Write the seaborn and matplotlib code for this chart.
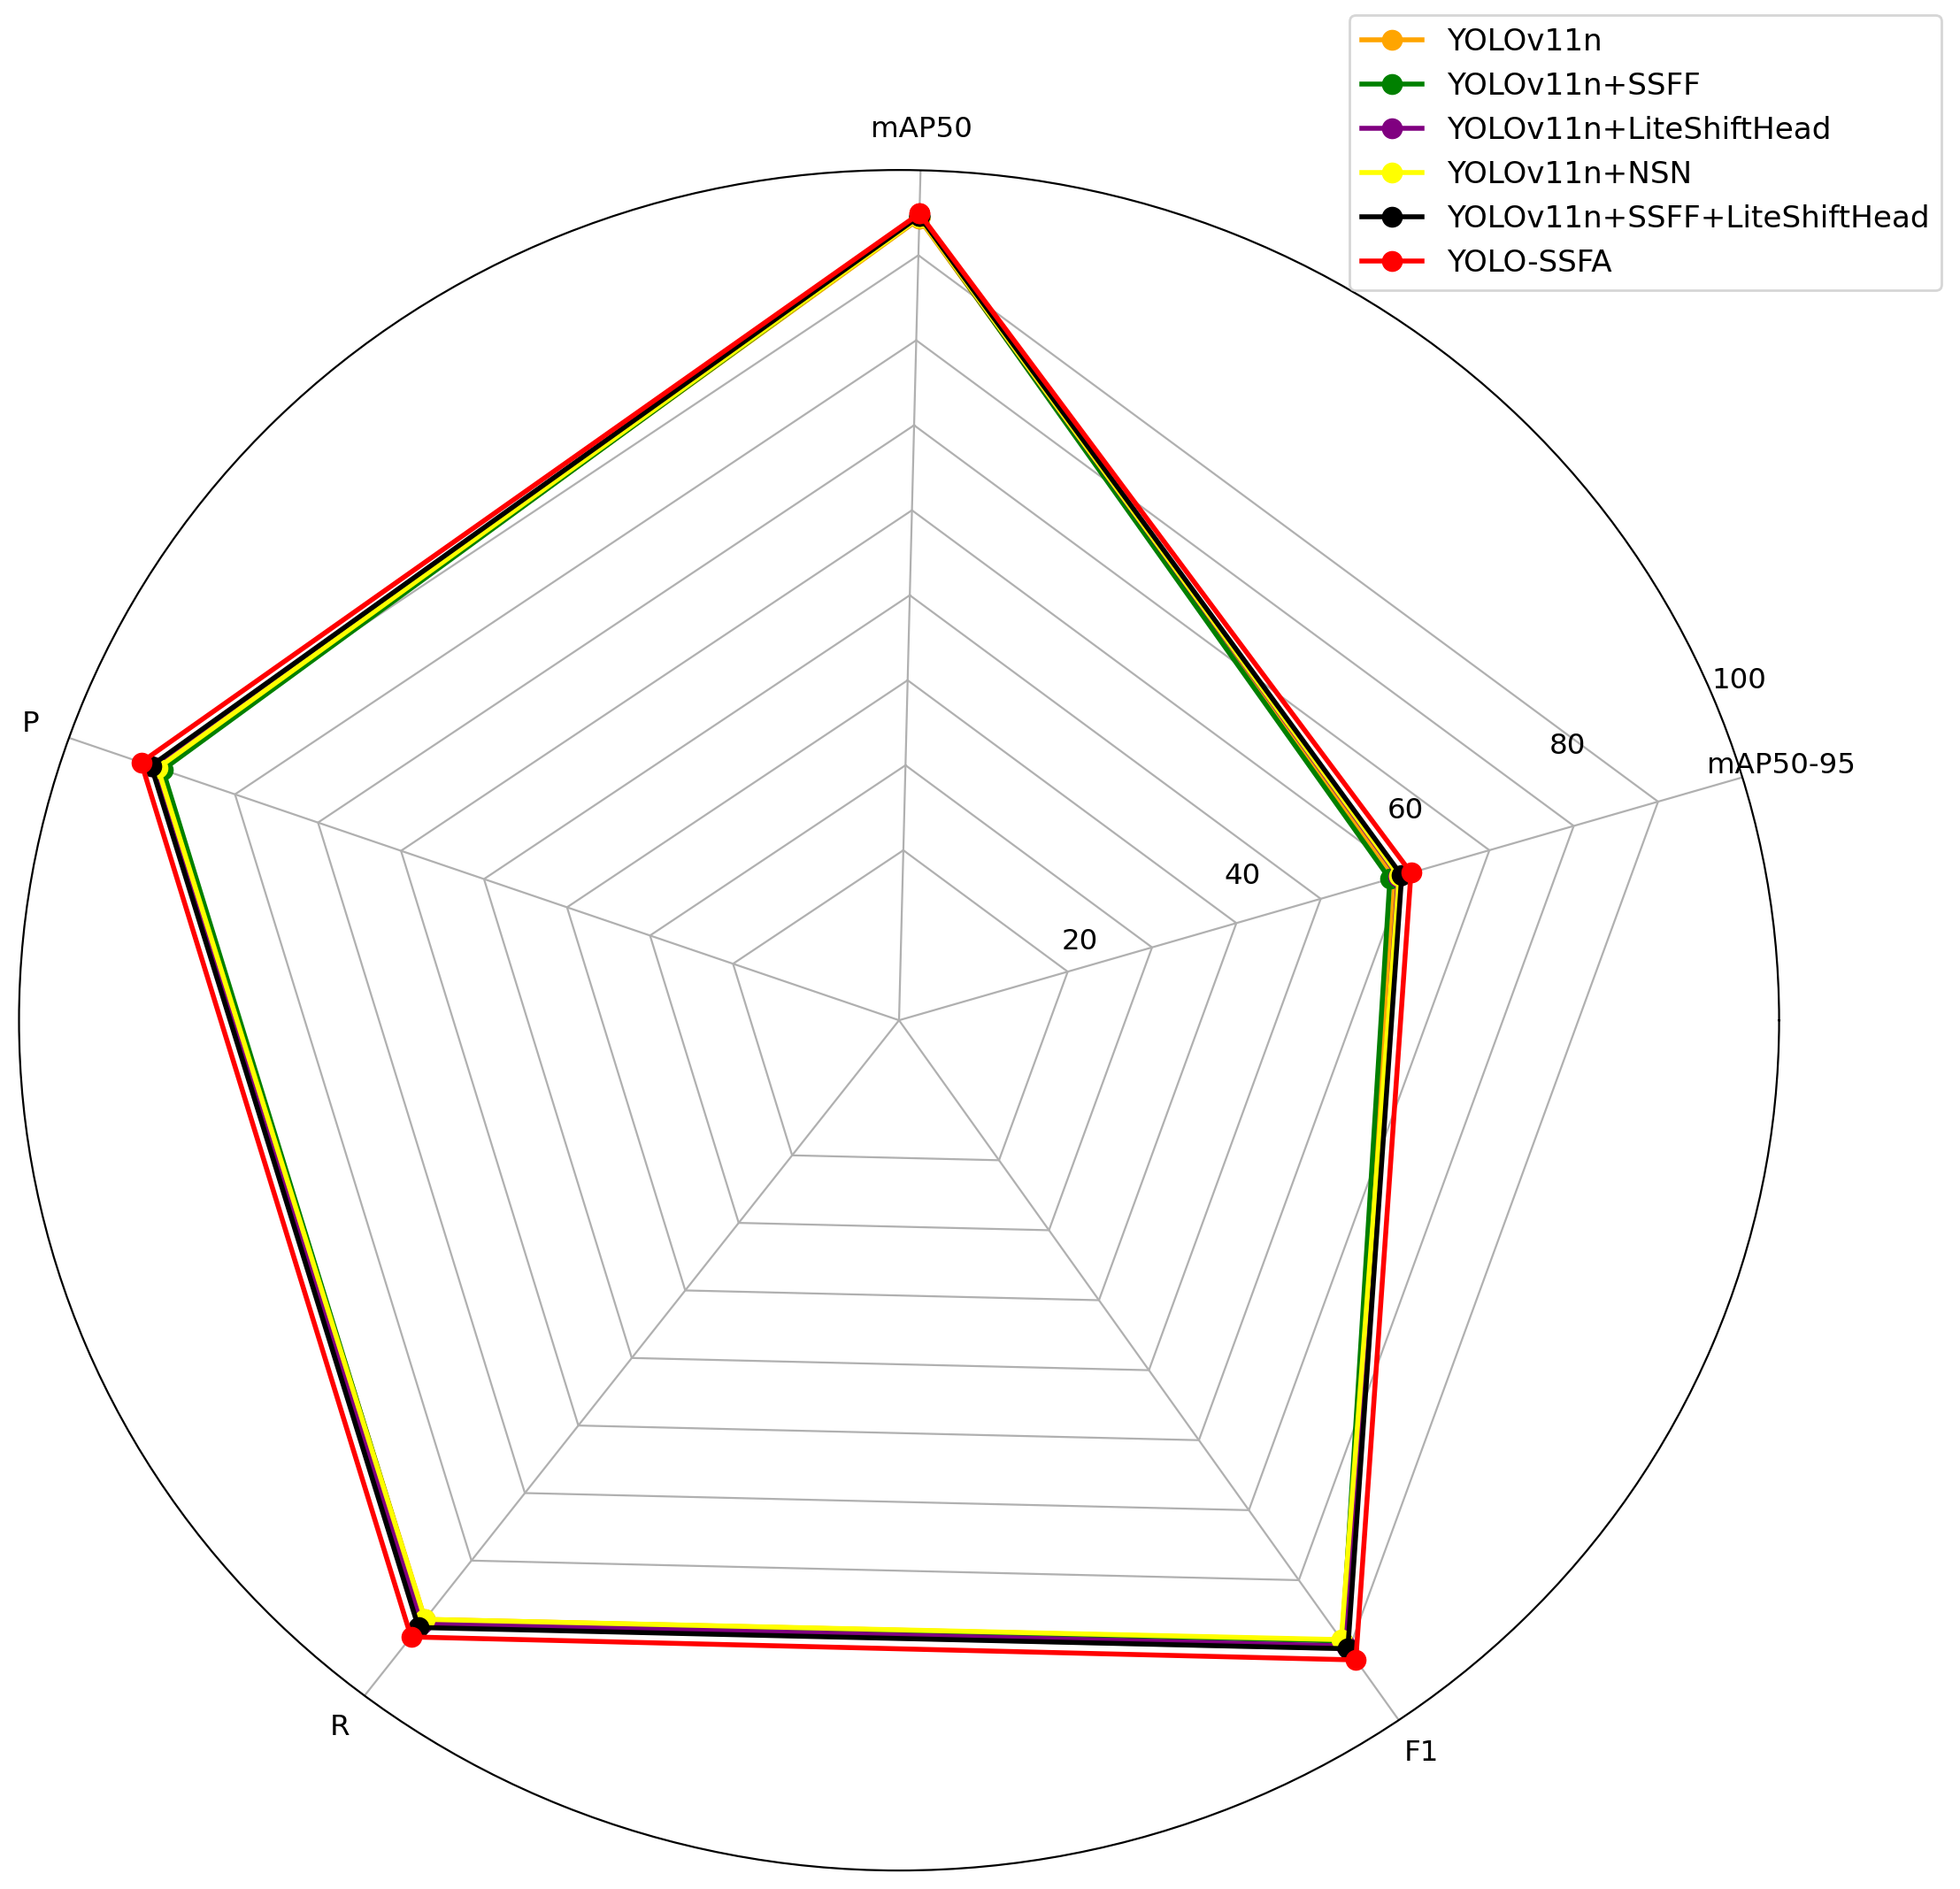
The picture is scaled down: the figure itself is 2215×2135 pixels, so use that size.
import numpy as np
import pandas as pd
import seaborn as sns
import matplotlib
matplotlib.use('Agg')
import matplotlib.pyplot as plt

plt.rcParams['font.size'] = 11.7

# 지표 / 모델별 값
categories = ['mAP50', 'P', 'R', 'F1', 'mAP50-95']
models = ['YOLOv11n', 'YOLOv11n+SSFF', 'YOLOv11n+LiteShiftHead',
          'YOLOv11n+NSN', 'YOLOv11n+SSFF+LiteShiftHead', 'YOLO-SSFA']
colors = ['orange', 'green', 'purple', 'yellow', 'black', 'red']

yolov11n = [94.3, 89.0, 88.7, 88.6, 58.8]
yolov11n_ssff = [94.5, 88.7, 88.8, 88.7, 58.2]
yolov11n_lsh = [94.4, 89.7, 89.3, 89.4, 59.2]
yolov11n_nsn = [94.4, 89.3, 88.7, 88.5, 59.3]
yolov11n_ssff_lsh = [94.6, 90.1, 89.9, 89.8, 59.6]
yolo_ssfa = [94.9, 91.3, 91.3, 91.4, 60.7]
values = [yolov11n, yolov11n_ssff, yolov11n_lsh, yolov11n_nsn, yolov11n_ssff_lsh, yolo_ssfa]

rticks = [20, 40, 60, 80, 100]
ring_levels = np.arange(20, 100, 10)

n = len(categories)
angles = np.pi / 2 + 2 * np.pi * np.arange(n) / n - np.deg2rad(1.4)
angles = np.mod(angles, 2 * np.pi)
angles_closed = np.append(angles, angles[0])

fig = plt.figure(figsize=(2215 / 200, 2135 / 200), dpi=200)
ax = fig.add_axes([0.0097, 0.0098, 0.898, 0.9002], projection='polar')

# 오각형 그리드
for lv in ring_levels:
    ax.plot(angles_closed, [lv] * (n + 1), color='#b0b0b0', lw=0.8, zorder=1)

for name, vals, c in zip(models, values, colors):
    df = pd.DataFrame({'angle': angles_closed, 'value': vals + vals[:1]})
    sns.lineplot(data=df, x='angle', y='value', ax=ax, sort=False, estimator=None,
                 color=c, lw=2, marker='o', markersize=8, mec=c, mew=0.5, label=name)

ax.set_xlim(0, 2 * np.pi)
ax.set_ylim(0, 100)
ax.set_aspect('auto')
ax.set_yticks(rticks)
ax.set_rlabel_position(22.5)
ax.yaxis.grid(False)
ax.xaxis.grid(True, color='#b0b0b0', lw=0.8)
ax.set_xticks(angles)
ax.set_xticklabels(categories)
ax.tick_params(axis='x', pad=6)
ax.set_xlabel('')
ax.set_ylabel('')

ax.legend(loc='upper right', bbox_to_anchor=(0.9905, 0.992),
          bbox_transform=fig.transFigure, borderaxespad=0, fontsize=12.3)

plt.savefig('out.png', dpi=200)
